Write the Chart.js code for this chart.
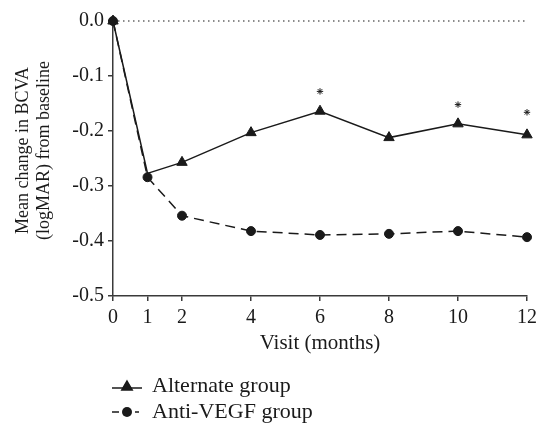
<!DOCTYPE html>
<html>
<head>
<meta charset="utf-8">
<script src="https://cdn.jsdelivr.net/npm/chart.js@4.4.1/dist/chart.umd.min.js"></script>
<style>
  html, body { margin: 0; padding: 0; background: #fff; }
  #wrap { width: 536px; height: 428px; }
</style>
</head>
<body>
<div id="wrap"><canvas id="bcvaChart" width="536" height="428"></canvas></div>
<script>
// visits in months
const months = [0, 1, 2, 4, 6, 8, 10, 12];
const xTicks = [0, 1, 2, 4, 6, 8, 10, 12];
const alternateGroup = [0, -0.277, -0.257, -0.203, -0.164, -0.212, -0.187, -0.207];
const antiVegfGroup = [0, -0.284, -0.354, -0.382, -0.389, -0.387, -0.382, -0.393];
// significance markers
const starMonths = [6, 10, 12];
const starValues = [-0.128, -0.152, -0.166];
const zeroLine = [0, 0];
const zeroMonths = [0, 12];
const seriesNames = ["Alternate group", "Anti-VEGF group"];
const yTitle = ["Mean change in BCVA", "(logMAR) from baseline"];

const INK = "#1a1a1a";
const AXIS = "#3a3a3a";
const SERIF = "'Liberation Serif', 'Times New Roman', serif";

function pts(xs, ys) {
  return xs.map((x, i) => ({ x: x, y: ys[i] }));
}

// y title, two rotated lines, sits a bit above the axis middle like the original
const yTitlePlugin = {
  id: "yTitlePlugin",
  afterDraw(chart) {
    const ctx = chart.ctx;
    const area = chart.chartArea;
    const cy = (area.top + area.bottom) / 2 - 8;
    ctx.save();
    ctx.fillStyle = INK;
    ctx.font = "18px " + SERIF;
    ctx.textAlign = "center";
    ctx.textBaseline = "middle";
    [23, 44].forEach((x, i) => {
      ctx.save();
      ctx.translate(x, cy);
      ctx.rotate(-Math.PI / 2);
      ctx.fillText(yTitle[i], 0, 0);
      ctx.restore();
    });
    ctx.restore();
  }
};

// legend drawn below the x axis, line + marker icons
const bottomLegend = {
  id: "bottomLegend",
  afterDraw(chart) {
    const ctx = chart.ctx;
    const x0 = chart.chartArea.left;
    const rows = [386, 412];
    ctx.save();
    ctx.strokeStyle = INK;
    ctx.fillStyle = INK;
    ctx.lineWidth = 1.5;

    // alternate: solid line + triangle
    let y = rows[0];
    ctx.beginPath();
    ctx.moveTo(x0 - 1, y + 2);
    ctx.lineTo(x0 + 29, y + 2);
    ctx.stroke();
    Chart.helpers.drawPoint(ctx, { pointStyle: "triangle", radius: 6, borderWidth: 1 }, x0 + 14, y + 1);
    ctx.fill();

    // anti-VEGF: dashed line + circle
    y = rows[1];
    ctx.beginPath();
    ctx.moveTo(x0 - 1, y);
    ctx.lineTo(x0 + 6, y);
    ctx.moveTo(x0 + 22, y);
    ctx.lineTo(x0 + 26, y);
    ctx.stroke();
    ctx.beginPath();
    ctx.arc(x0 + 14, y, 5, 0, Math.PI * 2);
    ctx.fill();

    ctx.font = "22px " + SERIF;
    ctx.textBaseline = "middle";
    ctx.textAlign = "left";
    ctx.fillText(seriesNames[0], x0 + 39, rows[0]);
    ctx.fillText(seriesNames[1], x0 + 39, rows[1]);
    ctx.restore();
  }
};

const ctx = document.getElementById("bcvaChart").getContext("2d");

const bcvaChart = new Chart(ctx, {
  type: "line",
  data: {
    datasets: [
      {
        label: "zero",
        data: pts(zeroMonths, zeroLine),
        borderColor: INK,
        borderWidth: 1.2,
        borderDash: [1.5, 3.5],
        pointRadius: 0,
        clip: false,
        order: 5,
      },
      {
        label: seriesNames[0],
        data: pts(months, alternateGroup),
        borderColor: INK,
        backgroundColor: INK,
        borderWidth: 1.5,
        pointStyle: "triangle",
        // month 1 marker sits hidden behind the circle in the original
        pointRadius: (c) => (c.dataIndex === 1 ? 0 : 6),
        pointBorderWidth: 1,
        clip: false,
        order: 2,
      },
      {
        label: seriesNames[1],
        data: pts(months, antiVegfGroup),
        borderColor: INK,
        backgroundColor: INK,
        borderWidth: 1.5,
        borderDash: [10, 6],
        pointStyle: "circle",
        pointRadius: 4.5,
        pointBorderWidth: 1,
        clip: false,
        order: 1,
      },
      {
        label: "p",
        data: pts(starMonths, starValues),
        showLine: false,
        borderColor: INK,
        pointStyle: "star",
        pointRadius: 3.2,
        pointBorderWidth: 1,
        clip: false,
        order: 0,
      },
    ],
  },
  options: {
    responsive: false,
    animation: false,
    layout: { padding: { top: 21, right: 9, bottom: 70, left: 0 } },
    plugins: {
      legend: { display: false },
      tooltip: { enabled: false },
    },
    scales: {
      x: {
        type: "linear",
        min: 0,
        max: 12,
        afterBuildTicks: function (scale) {
          scale.ticks = xTicks.map((v) => ({ value: v }));
        },
        afterFit: function (scale) {
          scale.height = 62;
          scale.paddingRight = 0;
        },
        grid: { drawOnChartArea: false, drawTicks: true, tickLength: 5, color: AXIS, lineWidth: 1.5 },
        border: { color: AXIS, width: 1.5 },
        ticks: { color: INK, font: { family: SERIF, size: 20 }, padding: 5, maxRotation: 0 },
        title: {
          display: true,
          text: "Visit (months)",
          color: INK,
          font: { family: SERIF, size: 21 },
          padding: { top: 2, bottom: 2 },
        },
      },
      y: {
        min: -0.5,
        max: 0,
        afterFit: function (scale) {
          scale.width = 113;
        },
        grid: { drawOnChartArea: false, drawTicks: true, tickLength: 5, color: AXIS, lineWidth: 1.5 },
        border: { color: AXIS, width: 1.5 },
        ticks: {
          stepSize: 0.1,
          color: INK,
          padding: 4,
          font: { family: SERIF, size: 20 },
          callback: function (value) {
            return value.toFixed(1);
          },
        },
      },
    },
  },
  plugins: [yTitlePlugin, bottomLegend],
});
</script>
</body>
</html>
